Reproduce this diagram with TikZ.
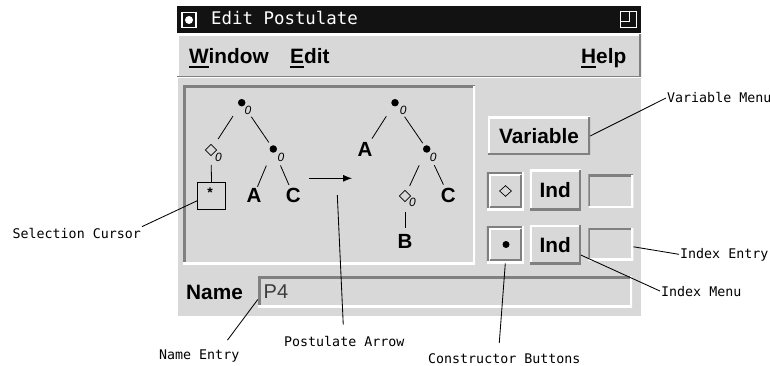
\documentclass[tikz,border=0pt]{standalone}
\usepackage{fontspec}
\setmainfont{Liberation Sans}
\newfontfamily\calloutfont{DejaVu Sans Mono}
\usetikzlibrary{arrows.meta,shapes.geometric}

\definecolor{uigrey}{RGB}{216,216,216}
\definecolor{bevdark}{RGB}{128,128,128}
\definecolor{titlebg}{RGB}{18,18,18}
\definecolor{entrytext}{RGB}{60,60,60}

% underlined keyboard mnemonic in the menu bar
\newcommand\mnemonic[1]{\setbox0\hbox{#1}\rlap{\rule[-4.5pt]{\wd0}{2.2pt}}#1}
\newcommand\menufont{\fontsize{20.8}{22}\selectfont\bfseries}
\newcommand\uifont{\fontsize{20.8}{22}\selectfont\bfseries}
\newcommand\treefont{\fontsize{20.5}{22}\selectfont\bfseries}
\newcommand\subfont{\fontsize{12}{13}\selectfont\itshape}
\newcommand\notefont{\calloutfont\fontsize{13.3}{15}\selectfont}

\tikzset{
  bevelled/.style n args={3}{path picture={
    \draw[#1,line width=#3] (path picture bounding box.south west) -- (path picture bounding box.north west) -- (path picture bounding box.north east);
    \draw[#2,line width=#3] (path picture bounding box.north east) -- (path picture bounding box.south east) -- (path picture bounding box.south west);}},
  raised/.style={fill=uigrey, bevelled={white}{bevdark}{4pt}},
  sunken/.style={fill=uigrey, bevelled={bevdark}{white}{4pt}},
  deepsunken/.style={fill=uigrey, bevelled={bevdark}{white}{5pt}},
  % a raised face set inside a sunken frame
  toggle/.style={fill=uigrey, inner sep=0pt, path picture={
    \draw[bevdark,line width=4pt] (path picture bounding box.south west) -- (path picture bounding box.north west) -- (path picture bounding box.north east);
    \draw[white,line width=4pt] (path picture bounding box.north east) -- (path picture bounding box.south east) -- (path picture bounding box.south west);
    \draw[white,line width=2pt] ([shift={(3pt,3pt)}]path picture bounding box.south west) -- ([shift={(3pt,-3pt)}]path picture bounding box.north west) -- ([shift={(-3pt,-3pt)}]path picture bounding box.north east);
    \draw[bevdark,line width=2pt] ([shift={(-3pt,-3pt)}]path picture bounding box.north east) -- ([shift={(-3pt,3pt)}]path picture bounding box.south east) -- ([shift={(3pt,3pt)}]path picture bounding box.south west);}},
  label/.style={inner sep=0pt, anchor=base west},
  note/.style={inner sep=1pt, anchor=base west, font=\notefont},
  callout/.style={draw=black, line width=0.85pt},
  dot/.style={circle, fill=black, inner sep=0pt, minimum size=7.5pt},
  hole/.style={diamond, draw=black, line width=0.7pt, inner sep=0pt, minimum size=11.5pt},
  idx/.style={inner sep=0pt, font=\subfont},
  leaf/.style={inner sep=0pt, font=\treefont},
  branch/.style={draw=black, line width=0.8pt},
}

\begin{document}
\begin{tikzpicture}[x=1pt,y=-1pt]
\useasboundingbox[fill=white] (0,0) rectangle (770,366);

% ---- window frame ----
\node[fill=titlebg, minimum width=464pt, minimum height=27pt, inner sep=0pt] (titlebar) at (409,19.5) {};
\node[draw=white, line width=1.2pt, minimum width=14pt, minimum height=15pt, inner sep=0pt] (winmenu) at (189,20) {};
\node[circle, fill=white, minimum size=8pt, inner sep=0pt] (winmenudot) at (winmenu.center) {};
\node[draw=white, line width=1pt, minimum width=16pt, minimum height=16pt, inner sep=0pt] (winmax) at (628,20) {};
\draw[white, line width=1pt] (winmax.north) ++(1,0) -- ++(0,10) -- ++(-8,0);
\node[label, text=white, font=\calloutfont\fontsize{17.4}{20}\selectfont] (title) at (211,25) {Edit Postulate};

\node[raised, minimum width=464pt, minimum height=44pt, inner sep=0pt] (menubar) at (409,56) {};
\node[fill=uigrey, minimum width=464pt, minimum height=238pt, inner sep=0pt] (body) at (409,197) {};
\draw[white, line width=1pt] (body.south west) ++(0.5,0) -- ([xshift=0.5pt]body.north west) -- (body.north east);

\node[label, font=\menufont] (mwin) at (189,63.5) {\mnemonic{W}indow};
\node[label, font=\menufont] (medit) at (290,63.5) {\mnemonic{E}dit};
\node[label, font=\menufont] (mhelp) at (581,63.5) {\mnemonic{H}elp};

% ---- tree panel ----
\node[deepsunken, minimum width=292pt, minimum height=178pt, inner sep=0pt] (panel) at (329,175) {};

% left-hand tree
\node[dot] (r1) at (241.7,102.7) {};
\node[idx] (r1i) at (248,110) {0};
\node[hole] (d1) at (211,150) {};
\node[idx] (d1i) at (218.5,157.3) {0};
\node[dot] (b1) at (273.3,149) {};
\node[idx] (b1i) at (281,157.3) {0};
\node[draw=black, line width=0.8pt, minimum width=28pt, minimum height=27pt, inner sep=0pt] (sel) at (211.5,195.8) {};
\node[inner sep=0pt, font=\fontsize{14}{14}\selectfont\bfseries] (star) at (210,193) {*};
\node[leaf] (a1) at (254,195) {A};
\node[leaf] (c1) at (293.3,195) {C};
\draw[branch, shorten <=16pt, shorten >=13pt] (r1.center) -- (d1.center);
\draw[branch, shorten <=17pt, shorten >=8pt] (r1.center) -- (b1.center);
\draw[branch, shorten <=15pt] (d1.center) -- (sel.north);
\draw[branch, shorten <=18pt, shorten >=9pt] (b1.center) -- (a1.center);
\draw[branch, shorten <=18pt, shorten >=11pt] (b1.center) -- (c1.center);

% postulate arrow
\coordinate (arrowS) at (309,178.3);
\coordinate (arrowE) at (352,178.3);
\draw[line width=0.9pt, -{Latex[length=9pt,width=7pt]}] (arrowS) -- (arrowE);

% right-hand tree
\node[dot] (r2) at (395,102.7) {};
\node[idx] (r2i) at (403.3,110) {0};
\node[leaf] (a2) at (365,149.5) {A};
\node[dot] (b2) at (426.7,149) {};
\node[idx] (b2i) at (433.3,157.3) {0};
\node[hole] (d2) at (405,196) {};
\node[idx] (d2i) at (412.5,202.7) {0};
\node[leaf] (c2) at (448.3,195) {C};
\node[leaf] (bb) at (405,241.7) {B};
\draw[branch, shorten <=16pt, shorten >=13pt] (r2.center) -- (a2.center);
\draw[branch, shorten <=17pt, shorten >=7pt] (r2.center) -- (b2.center);
\draw[branch, shorten <=18pt, shorten >=11pt] (b2.center) -- (d2.center);
\draw[branch, shorten <=18pt, shorten >=11.5pt] (b2.center) -- (c2.center);
\draw[branch, shorten <=15.5pt, shorten >=13.5pt] (d2.center) -- (bb.center);

% ---- buttons and entries ----
\node[raised, minimum width=102pt, minimum height=38pt, inner sep=0pt, font=\uifont] (varbtn) at (539,136) {Variable};
\node[toggle, minimum width=37pt, minimum height=38pt] (diabtn) at (505.3,191.2) {};
\node[diamond, draw=black, line width=0.7pt, inner sep=0pt, minimum width=12pt, minimum height=11pt] (diaglyph) at (505.5,191) {};
\node[raised, minimum width=51pt, minimum height=40pt, inner sep=0pt, font=\uifont] (ind1) at (555.3,190) {Ind};
\node[sunken, minimum width=45pt, minimum height=33pt, inner sep=0pt] (entry1) at (610.8,191.3) {};
\node[toggle, minimum width=37pt, minimum height=37pt] (dotbtn) at (505.3,244.7) {};
\node[circle, fill=black, inner sep=0pt, minimum size=7pt] (dotglyph) at (506,244.5) {};
\node[raised, minimum width=51pt, minimum height=39pt, inner sep=0pt, font=\uifont] (ind2) at (555.3,244.7) {Ind};
\node[sunken, minimum width=45pt, minimum height=32pt, inner sep=0pt] (entry2) at (610.8,244.3) {};

\node[label, font=\uifont] (namelbl) at (186,299.5) {Name};
\node[deepsunken, minimum width=374pt, minimum height=31pt, inner sep=0pt] (nameentry) at (445,291.5) {};
\node[label, text=entrytext, font=\fontsize{20}{22}\selectfont] (nameval) at (263.5,298.5) {P4};

% ---- callouts ----
\node[note] (varlbl) at (666,103) {Variable Menu};
\node[note] (ielbl) at (679,258) {Index Entry};
\node[note] (imlbl) at (660,296) {Index Menu};
\node[note] (sclbl) at (11.5,238) {Selection Cursor};
\node[note] (palbl) at (283,346) {Postulate Arrow};
\node[note] (nelbl) at (158,359) {Name Entry};
\node[note] (cblbl) at (427,363) {Constructor Buttons};
\coordinate (pastart) at (337.3,195);

\draw[callout] (varbtn.east) -- (varlbl.west);
\draw[callout] ([yshift=-2.5pt]entry2.east) -- (ielbl.west);
\draw[callout] (ind2.-22) -- (imlbl.west);
\draw[callout] (dotbtn.south) -- ([xshift=-5pt,yshift=9pt]cblbl.north);
\draw[callout] (pastart) -- ([xshift=-1pt,yshift=10pt]palbl.north);
\draw[callout] ([yshift=-8pt]nameentry.west) -- ([xshift=-13pt,yshift=8pt]nelbl.north east);
\draw[callout] ([yshift=-5pt]sel.west) -- (sclbl.north east);
\end{tikzpicture}
\end{document}
